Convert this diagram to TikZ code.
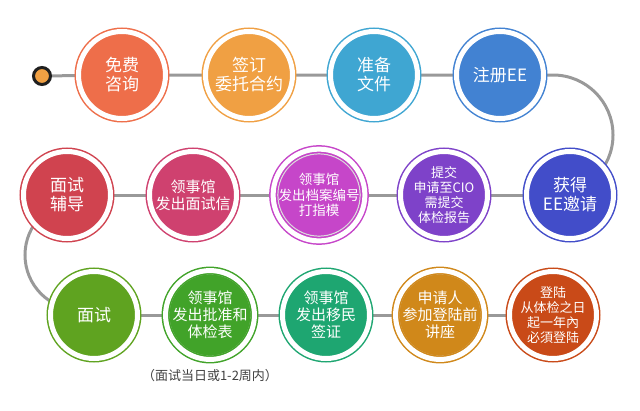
\documentclass[tikz,border=0pt]{standalone}
\usepackage{fontspec}
\newfontfamily\cjk{Noto Sans CJK SC}
\usetikzlibrary{backgrounds}
\definecolor{cA}{HTML}{EE6E4A}
\definecolor{cB}{HTML}{F0A043}
\definecolor{cC}{HTML}{3FA6D2}
\definecolor{cD}{HTML}{4282D2}
\definecolor{cE}{HTML}{D0434F}
\definecolor{cF}{HTML}{CF416F}
\definecolor{cG}{HTML}{C646C9}
\definecolor{cH}{HTML}{7E42C9}
\definecolor{cI}{HTML}{424DC9}
\definecolor{cJ}{HTML}{5FA320}
\definecolor{cK}{HTML}{41A329}
\definecolor{cL}{HTML}{1EA671}
\definecolor{cM}{HTML}{D0881A}
\definecolor{cN}{HTML}{C94A18}
\definecolor{conncol}{HTML}{999999}
\tikzset{
  stepcirc/.style={circle, minimum size=87pt, inner sep=0pt, fill=#1, draw=#1,
    line width=1.5pt, double=white, double distance=5pt, text=white, align=center,
    font=\cjk\fontsize{17}{19}\selectfont,
    path picture={\draw[black!14,line width=1.2pt] (path picture bounding box.center) circle (41.2pt);}},
  mid/.style={font=\cjk\fontsize{15}{17}\selectfont},
  small/.style={font=\cjk\fontsize{13.5}{15.5}\selectfont},
  tiny/.style={font=\cjk\fontsize{13}{15}\selectfont},
  conn/.style={draw=conncol, line width=3pt},
  startdot/.style={circle, minimum size=17pt, inner sep=0pt, fill=cB, draw=black!88, line width=3pt},
  note/.style={text=black!75, font=\cjk\fontsize{13}{15}\selectfont}
}
\begin{document}
\begin{tikzpicture}[x=1pt,y=-1pt]
\useasboundingbox (0,0) rectangle (640,410);
\node[startdot] (s) at (42,76) {};
\node[stepcirc=cA] (a1) at (122,75) {免费\\咨询};
\node[stepcirc=cB] (a2) at (249,75) {签订\\委托合约};
\node[stepcirc=cC] (a3) at (374,75) {准备\\文件};
\node[stepcirc=cD] (a4) at (500,75) {注册EE};
\node[stepcirc=cE] (b1) at (67,195) {面试\\辅导};
\node[stepcirc=cF, mid] (b2) at (193,195) {领事馆\\发出面试信};
\node[stepcirc=cG, small] (b3) at (319,195) {领事馆\\发出档案编号\\打指模};
\node[stepcirc=cH, tiny] (b4) at (444,195) {提交\\申请至CIO\\需提交\\体检报告};
\node[stepcirc=cI] (b5) at (570,195) {获得\\EE邀请};
\node[stepcirc=cJ] (c1) at (94,315) {面试};
\node[stepcirc=cK, mid] (c2) at (210,315) {领事馆\\发出批准和\\体检表};
\node[stepcirc=cL, mid] (c3) at (326,315) {领事馆\\发出移民\\签证};
\node[stepcirc=cM, mid] (c4) at (440,315) {申请人\\参加登陆前\\讲座};
\node[stepcirc=cN, tiny] (c5) at (553,315) {登陆\\从体检之日\\起一年內\\必須登陆};
\node[note] (n1) at (210,376) {（面试当日或1-2周内）};
\begin{scope}[on background layer]
\draw[conn] (s) -- (a1.center) -- (a2.center) -- (a3.center) -- (a4.center);
\draw[conn] (a4.center) -- (553,75) arc[start angle=-90, end angle=90, radius=60] -- (b5.center);
\draw[conn] (b5.center) -- (b4.center) -- (b3.center) -- (b2.center) -- (b1.center);
\draw[conn] (b1.center) -- (80,200) arc[start angle=-90, end angle=-270, radius=55] -- (c1.center);
\draw[conn] (c1.center) -- (c2.center) -- (c3.center) -- (c4.center) -- (c5.center);
\end{scope}
\end{tikzpicture}
\end{document}
